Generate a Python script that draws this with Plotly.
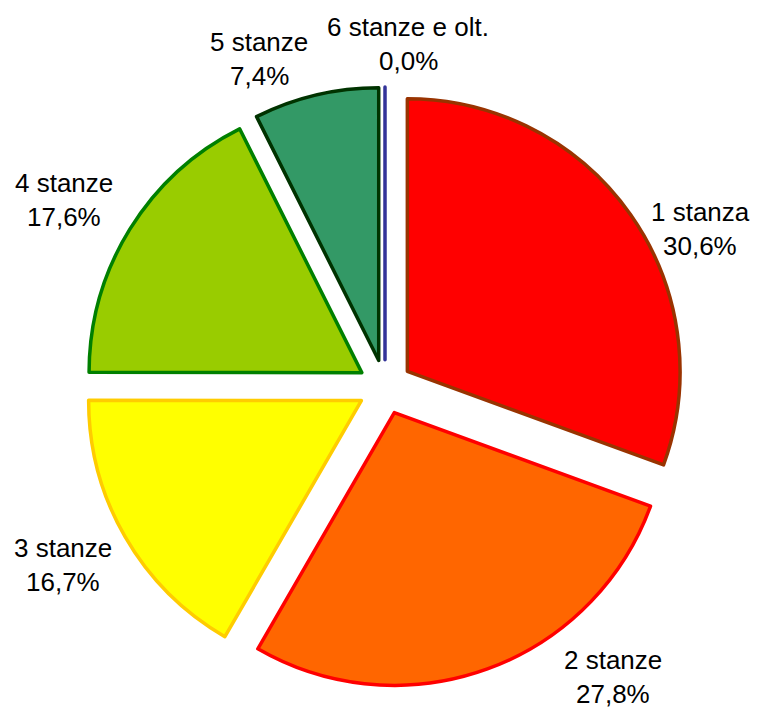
import plotly.graph_objects as go

labels = ["1 stanza", "2 stanze", "3 stanze", "4 stanze", "5 stanze", "6 stanze e olt."]
values = [30.6, 27.8, 16.7, 17.6, 7.4, 0.0]
fill_colors = ["#FF0000", "#FF6600", "#FFFF00", "#99CC00", "#339966", "#333399"]
line_colors = ["#993300", "#FF0000", "#FFCC00", "#008000", "#003300", "#333399"]

# the page body adds an 8px offset; the figure is sized to fit the window
OFF = 8
W, H = 758 - OFF, 709 - OFF
FONT = "Liberation Sans, Arial, sans-serif"


def px_x(x):
    return (x - OFF) / W


def px_y(y):
    return 1 - (y - OFF) / H


fig = go.Figure(go.Pie(
    labels=labels,
    values=values,
    sort=False,
    direction="clockwise",
    rotation=0,
    pull=[0.1] * len(values),
    marker=dict(colors=fill_colors, line=dict(color=line_colors, width=3.5)),
    textinfo="none",
    domain=dict(x=[px_x(85), px_x(685)], y=[px_y(687), px_y(87)]),
    showlegend=False,
    hoverinfo="label+percent",
))

# label centres (reference pixels) of the first text line of each data label
label_px = [(700, 212), (613, 660), (63, 548), (64, 183), (259, 42), (408, 27)]
line_gap = 34

total = sum(values)
for lab, v, (px, py) in zip(labels, values, label_px):
    pct = f"{100 * v / total:.1f}%".replace(".", ",")
    for txt, yy in ((lab, py), (pct, py + line_gap)):
        fig.add_annotation(
            x=px_x(px), y=px_y(yy), xref="paper", yref="paper",
            text=txt, showarrow=False, xanchor="center", yanchor="middle",
            font=dict(family=FONT, size=26, color="#000000"),
        )

fig.update_layout(
    width=W, height=H,
    margin=dict(l=0, r=0, t=0, b=0),
    paper_bgcolor="#FFFFFF",
    plot_bgcolor="#FFFFFF",
    separators=",.",
    font=dict(family=FONT, size=26, color="#000000"),
)

fig.write_html("out.html")
